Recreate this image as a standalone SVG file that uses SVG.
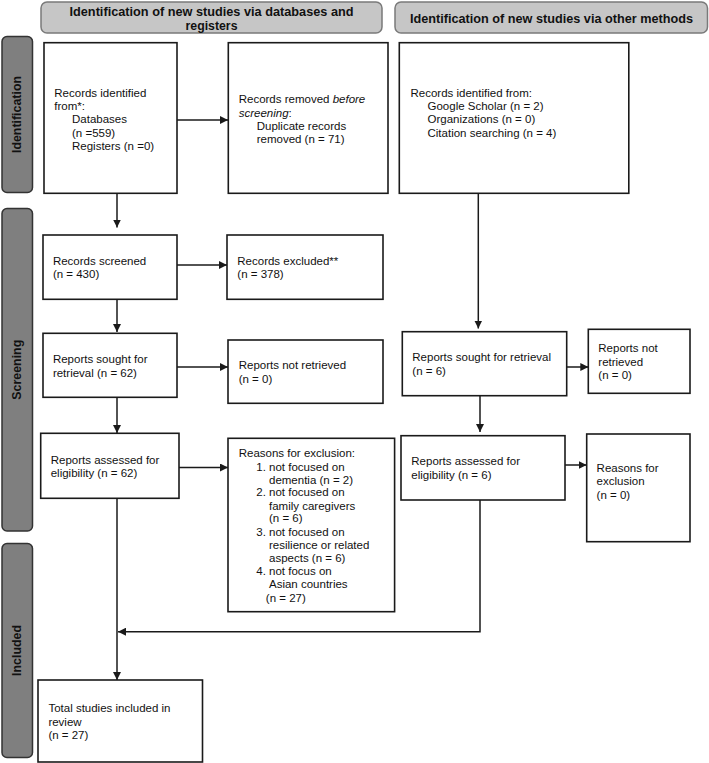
<svg xmlns="http://www.w3.org/2000/svg" width="709" height="763" viewBox="0 0 709 763">
<style>
.hdr{fill:#c6c6c6;stroke:#7a7a7a;stroke-width:1.5}
.tab{fill:#7f7f7f;stroke:#333;stroke-width:1.5}
.box{fill:#fff;stroke:#1a1a1a;stroke-width:1.6}
.ht{font-family:"Liberation Sans",Arial,sans-serif;font-weight:bold;font-size:13px;fill:#111;text-anchor:middle}
.tt{font-family:"Liberation Sans",Arial,sans-serif;font-weight:bold;font-size:12.4px;fill:#111;text-anchor:middle;dominant-baseline:central}
.t{font-family:"Liberation Sans",Arial,sans-serif;font-size:11.5px;fill:#111}
.c{fill:none;stroke:#1a1a1a;stroke-width:1.5}
</style>
<defs>
<marker id="ah" viewBox="0 0 10 10" refX="10" refY="5" markerWidth="8" markerHeight="8" markerUnits="userSpaceOnUse" orient="auto">
<path d="M0,0 L10,5 L0,10 z" fill="#1a1a1a"/>
</marker>
</defs>
<rect width="709" height="763" fill="#fff"/>

<g id="header-db">
<rect class="hdr" x="41" y="2" width="341" height="31" rx="6"/>
<text class="ht" x="211.5" y="15.5" textLength="284" lengthAdjust="spacingAndGlyphs">Identification of new studies via databases and</text>
<text class="ht" x="211.5" y="29.5" textLength="52" lengthAdjust="spacingAndGlyphs">registers</text>
</g>
<g id="header-other">
<rect class="hdr" x="395" y="2" width="312.5" height="31" rx="6"/>
<text class="ht" x="551.5" y="23" textLength="283" lengthAdjust="spacingAndGlyphs">Identification of new studies via other methods</text>
</g>

<g id="tab-identification">
<rect class="tab" x="2" y="36.5" width="30.5" height="156" rx="5"/>
<text class="tt" transform="translate(17.3,114.5) rotate(-90)">Identification</text>
</g>
<g id="tab-screening">
<rect class="tab" x="2" y="208.5" width="30.5" height="322.5" rx="5"/>
<text class="tt" transform="translate(17.3,369.7) rotate(-90)">Screening</text>
</g>
<g id="tab-included">
<rect class="tab" x="2" y="543.5" width="30.5" height="214" rx="5"/>
<text class="tt" transform="translate(17.3,650.5) rotate(-90)">Included</text>
</g>

<g id="records-identified">
<rect class="box" x="44" y="42.7" width="133" height="150.6"/>
<text class="t"><tspan x="54.3" y="96.7">Records identified</tspan><tspan x="54.3" y="110">from*:</tspan><tspan x="72" y="123.3">Databases</tspan><tspan x="72" y="136.6">(n =559)</tspan><tspan x="72" y="149.9">Registers (n =0)</tspan></text>
</g>
<g id="records-removed">
<rect class="box" x="228.3" y="42.7" width="159.7" height="150.6"/>
<text class="t"><tspan x="238.7" y="103.3">Records removed <tspan font-style="italic">before</tspan></tspan><tspan x="238.7" y="116.6"><tspan font-style="italic">screening</tspan>:</tspan><tspan x="256.7" y="129.9">Duplicate records</tspan><tspan x="256.7" y="143.2">removed (n = 71)</tspan></text>
</g>
<g id="records-other">
<rect class="box" x="399.3" y="42.7" width="229.5" height="150.6"/>
<text class="t"><tspan x="410.5" y="96.7">Records identified from:</tspan><tspan x="427.5" y="110">Google Scholar (n = 2)</tspan><tspan x="427.5" y="123.3">Organizations (n = 0)</tspan><tspan x="427.5" y="136.6">Citation searching (n = 4)</tspan></text>
</g>

<g id="records-screened">
<rect class="box" x="43" y="235" width="134" height="64.3"/>
<text class="t"><tspan x="52.9" y="265">Records screened</tspan><tspan x="52.9" y="278.3">(n = 430)</tspan></text>
</g>
<g id="records-excluded">
<rect class="box" x="227" y="235" width="156" height="64.3"/>
<text class="t"><tspan x="237.3" y="265">Records excluded**</tspan><tspan x="237.3" y="278.3">(n = 378)</tspan></text>
</g>

<g id="reports-sought-db">
<rect class="box" x="43" y="333.3" width="134" height="64"/>
<text class="t"><tspan x="52.9" y="363.3">Reports sought for</tspan><tspan x="52.9" y="376.6">retrieval (n = 62)</tspan></text>
</g>
<g id="reports-not-retrieved-db">
<rect class="box" x="228" y="340" width="155" height="63.3"/>
<text class="t"><tspan x="238.7" y="369.3">Reports not retrieved</tspan><tspan x="238.7" y="382.6">(n = 0)</tspan></text>
</g>
<g id="reports-sought-other">
<rect class="box" x="402.3" y="331.7" width="164.4" height="64"/>
<text class="t"><tspan x="412.3" y="361.3">Reports sought for retrieval</tspan><tspan x="412.3" y="374.6">(n = 6)</tspan></text>
</g>
<g id="reports-not-retrieved-other">
<rect class="box" x="588.3" y="329.3" width="101.7" height="64"/>
<text class="t"><tspan x="598.3" y="352.3">Reports not</tspan><tspan x="598.3" y="365.6">retrieved</tspan><tspan x="598.3" y="378.9">(n = 0)</tspan></text>
</g>

<g id="reports-assessed-db">
<rect class="box" x="40.7" y="433.3" width="138.3" height="65"/>
<text class="t"><tspan x="50.7" y="464">Reports assessed for</tspan><tspan x="50.7" y="477.3">eligibility (n = 62)</tspan></text>
</g>
<g id="reasons-exclusion-db">
<rect class="box" x="228" y="438.3" width="166.6" height="173.4"/>
<text class="t"><tspan x="238.7" y="457.3">Reasons for exclusion:</tspan><tspan x="256.3" y="470.6">1. not focused on</tspan><tspan x="269" y="483.5">dementia (n = 2)</tspan><tspan x="256.3" y="496.4">2. not focused on</tspan><tspan x="269" y="509.5">family caregivers</tspan><tspan x="269" y="522.3">(n = 6)</tspan><tspan x="256.3" y="535.6">3. not focused on</tspan><tspan x="269" y="548.9">resilience or related</tspan><tspan x="269" y="561.8">aspects (n = 6)</tspan><tspan x="256.3" y="575">4. not focus on</tspan><tspan x="269" y="587.8">Asian countries</tspan><tspan x="265.8" y="601.6">(n = 27)</tspan></text>
</g>
<g id="reports-assessed-other">
<rect class="box" x="401" y="435.7" width="164" height="64.3"/>
<text class="t"><tspan x="411.3" y="465">Reports assessed for</tspan><tspan x="411.3" y="478.8">eligibility (n = 6)</tspan></text>
</g>
<g id="reasons-exclusion-other">
<rect class="box" x="586.7" y="434" width="103.3" height="107.7"/>
<text class="t"><tspan x="596.6" y="472.3">Reasons for</tspan><tspan x="596.6" y="485.3">exclusion</tspan><tspan x="596.6" y="499">(n = 0)</tspan></text>
</g>

<g id="total-included">
<rect class="box" x="38" y="680" width="164.5" height="82"/>
<text class="t"><tspan x="48.4" y="712.3">Total studies included in</tspan><tspan x="48.4" y="725.6">review</tspan><tspan x="48.4" y="739">(n = 27)</tspan></text>
</g>

<g id="connectors">
<line class="c" x1="177" y1="120" x2="228" y2="120" marker-end="url(#ah)"/>
<line class="c" x1="117" y1="193.3" x2="117" y2="227.5" marker-end="url(#ah)"/>
<line class="c" x1="177" y1="265" x2="227" y2="265" marker-end="url(#ah)"/>
<line class="c" x1="117" y1="299.3" x2="117" y2="332" marker-end="url(#ah)"/>
<line class="c" x1="177" y1="367" x2="228" y2="367" marker-end="url(#ah)"/>
<line class="c" x1="117" y1="397.3" x2="117" y2="433" marker-end="url(#ah)"/>
<line class="c" x1="179" y1="467.5" x2="228" y2="467.5" marker-end="url(#ah)"/>
<line class="c" x1="117" y1="498.3" x2="117" y2="680" marker-end="url(#ah)"/>
<line class="c" x1="478.3" y1="193.3" x2="478.3" y2="328.5" marker-end="url(#ah)"/>
<line class="c" x1="566.7" y1="367" x2="588.3" y2="367" marker-end="url(#ah)"/>
<line class="c" x1="480" y1="395.7" x2="480" y2="432" marker-end="url(#ah)"/>
<line class="c" x1="565" y1="465" x2="586.7" y2="465" marker-end="url(#ah)"/>
<polyline class="c" points="480,500 480,631.7 118,631.7" marker-end="url(#ah)"/>
</g>
</svg>
